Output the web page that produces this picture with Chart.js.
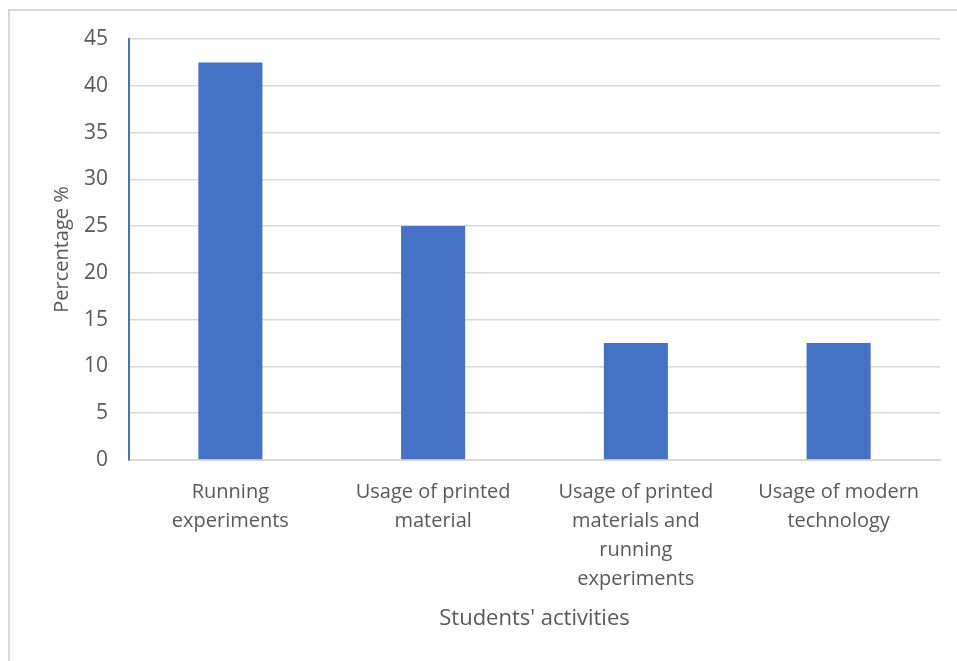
<!DOCTYPE html>
<html>
<head>
<meta charset="utf-8">
<script src="https://cdn.jsdelivr.net/npm/chart.js@4/dist/chart.umd.min.js"></script>
<style>
html,body{margin:0;padding:0;background:#fff;}
#wrap{position:relative;width:957px;height:661px;overflow:hidden;}
#frame{position:absolute;left:8px;top:9px;width:980px;height:700px;border-left:2px solid #d9d9d9;border-top:2px solid #d9d9d9;}
canvas{position:absolute;left:0;top:0;}
</style>
</head>
<body>
<div id="wrap">
<div id="frame"></div>
<canvas id="c" width="957" height="661"></canvas>
</div>
<script>
const categories = [
  ["Running", "experiments"],
  ["Usage of printed", "material"],
  ["Usage of printed", "materials and", "running", "experiments"],
  ["Usage of modern", "technology"]
];
const percentages = [42.5, 25, 12.5, 12.5];
const yTicks = [0, 5, 10, 15, 20, 25, 30, 35, 40, 45];
const yTitle = "Percentage %";
const xTitle = "Students' activities";

const FONT = "'Open Sans', 'Liberation Sans', sans-serif";
const GRAY = '#595959';

new Chart(document.getElementById('c'), {
  type: 'bar',
  data: {
    labels: categories,
    datasets: [{
      data: percentages,
      backgroundColor: '#4472C4',
      borderWidth: 0,
      barPercentage: 0.316,
      categoryPercentage: 1
    }]
  },
  options: {
    responsive: false,
    animation: false,
    devicePixelRatio: 1,
    layout: { padding: { top: 39, right: 17, left: 0, bottom: 0 } },
    plugins: { legend: { display: false }, tooltip: { enabled: false } },
    scales: {
      x: {
        grid: { display: false, drawTicks: false },
        border: { color: '#d9d9d9', width: 2 },
        ticks: {
          color: GRAY,
          font: { family: FONT, size: 20, lineHeight: 1.45 },
          padding: 18,
          maxRotation: 0,
          autoSkip: false
        },
        title: {
          display: true,
          text: xTitle,
          color: GRAY,
          font: { family: FONT, size: 22 },
          padding: { top: 0, bottom: 29 }
        },
        afterFit: s => { s.height = 201; }
      },
      y: {
        min: 0,
        max: 45,
        afterBuildTicks: s => { s.ticks = yTicks.map(v => ({ value: v })); },
        grid: { color: '#d9d9d9', lineWidth: 1.5, drawTicks: false },
        border: { color: '#4472C4', width: 2 },
        ticks: {
          color: GRAY,
          font: { family: FONT, size: 21 },
          padding: 21
        },
        title: {
          display: true,
          text: yTitle,
          color: GRAY,
          font: { family: FONT, size: 20 },
          padding: { top: 50, bottom: 0 }
        },
        afterFit: s => { s.width = 129; }
      }
    }
  }
});
</script>
</body>
</html>
